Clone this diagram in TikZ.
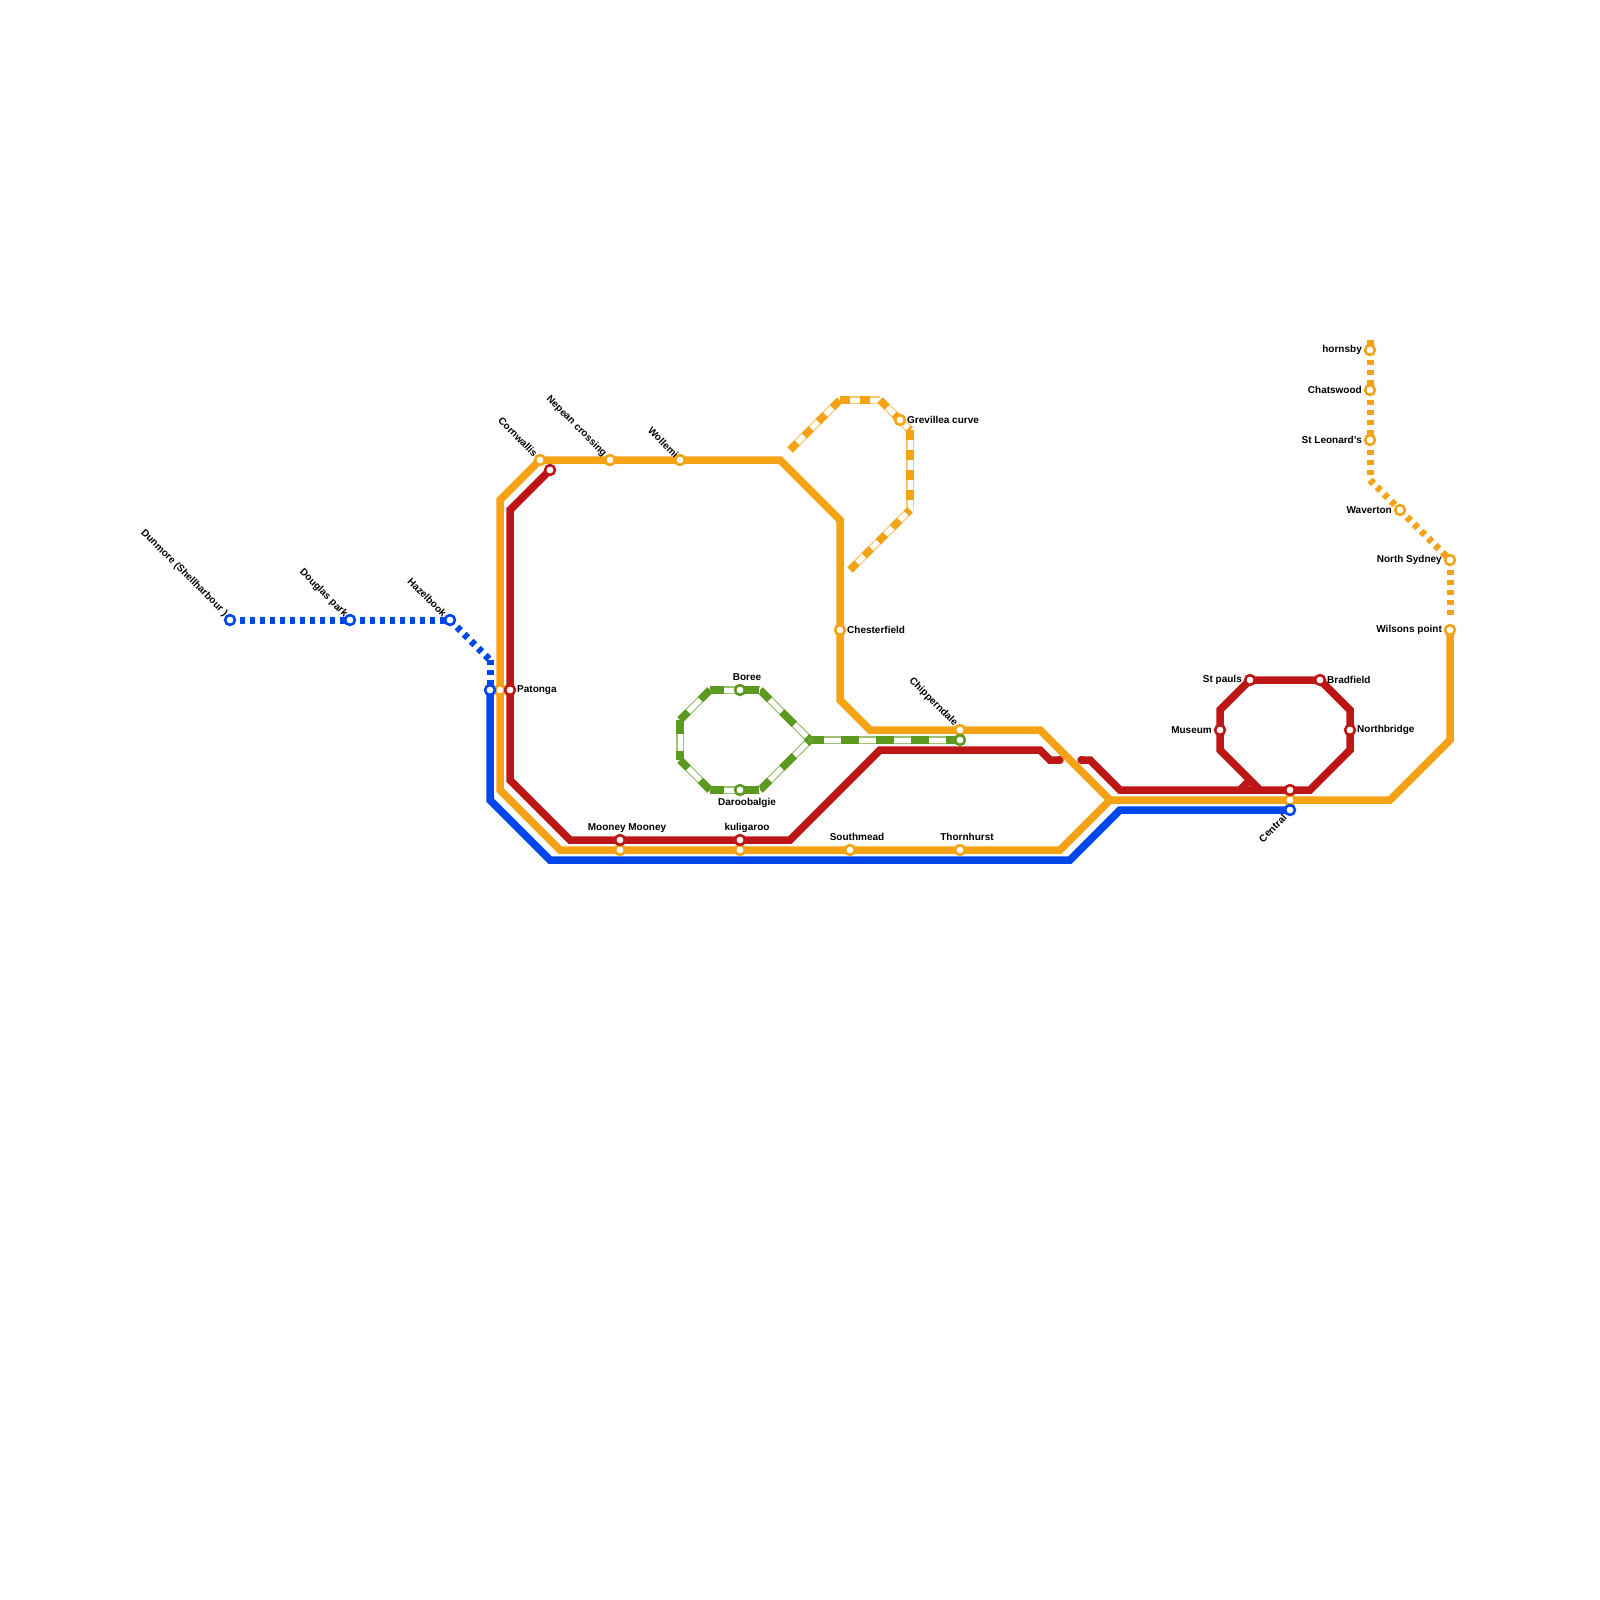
\documentclass[tikz,border=0pt]{standalone}
\usepackage{fontspec}
\setmainfont{Liberation Sans}
\usetikzlibrary{backgrounds}
\definecolor{lnblue}{HTML}{0047EB}
\definecolor{lnorange}{HTML}{F5A315}
\definecolor{lnred}{HTML}{BD1616}
\definecolor{lngreen}{HTML}{5B9A1E}
\tikzset{
  solidline/.style={draw=#1,line width=7.5pt,line join=miter,miter limit=10},
  dotline/.style={draw=#1,line width=7pt,dash pattern=on 5pt off 5pt},
  stub/.style={draw=#1,line width=7pt},
  tramorange/.style={draw=lnorange,line width=7.5pt,dash pattern=on 10pt off 10pt,
    preaction={draw=lnorange!60!white,line width=7.5pt,solid},
    preaction={draw=white,line width=5pt,solid}},
  tramgreen/.style={draw=lngreen,line width=7.5pt,dash pattern=on 17.5pt off 17.5pt,dash phase=4pt,
    preaction={draw=lngreen!60!white,line width=7.5pt,solid},
    preaction={draw=white,line width=5pt,solid}},
  stn/.style={circle,draw=#1,fill=white,line width=2.6pt,minimum size=9.8pt,inner sep=0pt},
  lab/.style={font=\fontsize{10}{12}\selectfont\bfseries,text=black,inner sep=0pt},
  labr/.style={lab,anchor=east},
  labl/.style={lab,anchor=west},
  labd/.style={lab,anchor=east,rotate=-45},
  labu/.style={lab,anchor=east,rotate=45},
}
\begin{document}
\begin{tikzpicture}[x=1pt,y=-1pt]
\useasboundingbox (0,0) rectangle (1600,1600);
% stations
\node[stn=lnorange] (opatonga) at (500,690) {};
\node[stn=lnorange] (cornwallis) at (540,460) {};
\node[stn=lnorange] (nepean) at (610,460) {};
\node[stn=lnorange] (wollemi) at (680,460) {};
\node[stn=lnorange] (chesterfield) at (840,630) {};
\node[stn=lnorange] (chipp) at (960,730) {};
\node[stn=lnorange] (omooney) at (620,850) {};
\node[stn=lnorange] (okuli) at (740,850) {};
\node[stn=lnorange] (southmead) at (850,850) {};
\node[stn=lnorange] (thornhurst) at (960,850) {};
\node[stn=lnorange] (ocentral) at (1290,800) {};
\node[stn=lnorange] (grevillea) at (900,420) {};
\node[stn=lnorange] (hornsby) at (1370,350) {};
\node[stn=lnorange] (chatswood) at (1370,390) {};
\node[stn=lnorange] (leonard) at (1370,440) {};
\node[stn=lnorange] (waverton) at (1400,510) {};
\node[stn=lnorange] (nsydney) at (1450,560) {};
\node[stn=lnorange] (wilsons) at (1450,630) {};
\node[stn=lnblue] (dunmore) at (230,620) {};
\node[stn=lnblue] (douglas) at (350,620) {};
\node[stn=lnblue] (hazel) at (450,620) {};
\node[stn=lnblue] (bpatonga) at (490,690) {};
\node[stn=lnblue] (central) at (1290,810) {};
\node[stn=lnred] (rtop) at (550,470) {};
\node[stn=lnred] (patonga) at (510,690) {};
\node[stn=lnred] (rmooney) at (620,840) {};
\node[stn=lnred] (rkuli) at (740,840) {};
\node[stn=lnred] (rcentral) at (1290,790) {};
\node[stn=lnred] (stpauls) at (1250,680) {};
\node[stn=lnred] (bradfield) at (1320,680) {};
\node[stn=lnred] (museum) at (1220,730) {};
\node[stn=lnred] (northbridge) at (1350,730) {};
\node[stn=lngreen] (boree) at (740,690) {};
\node[stn=lngreen] (daroo) at (740,790) {};
\node[stn=lngreen] (gchipp) at (960,740) {};
% free ends and corners
\coordinate (bc1) at (490,660);
\coordinate (oc1) at (1370,340);
\coordinate (oc2) at (1370,480);
\coordinate (gj) at (810,740);
\coordinate (redsplit) at (1240,790);
\begin{scope}[on background layer]
\fill[white] (0,0) rectangle (1600,1600);
% blue
\draw[solidline=lnblue] (bpatonga.center) -- (490,800) -- (550,860) -- (1070,860) -- (1120,810) -- (central.center);
\draw[dotline=lnblue] (dunmore.center) -- (douglas.center);
\draw[stub=lnblue] (340,620) -- (douglas.center);
\draw[dotline=lnblue] (douglas.center) -- (hazel.center);
\draw[stub=lnblue] (440,620) -- (hazel.center);
\draw[dotline=lnblue] (hazel.center) -- (bc1);
\draw[dotline=lnblue] (bc1) -- (bpatonga.center);
% red
\draw[solidline=lnred] (rtop.center) -- (510,510) -- (510,780) -- (570,840) -- (790,840) -- (880,750) -- (1040,750) -- (1050,760) -- (1060,760);
\draw[solidline=lnred,line cap=round] (1060,760) -- (1059,760);
\draw[solidline=lnred,line cap=round] (1081,760) -- (1082,760);
\draw[solidline=lnred] (1081,760) -- (1090,760) -- (1120,790) -- (1310,790) -- (1350,750) -- (1350,710) -- (1320,680) -- (1250,680) -- (1220,710) -- (1220,750) -- (1260,790);
\draw[solidline=lnred] (redsplit) -- (1250,780);
% orange
\draw[solidline=lnorange] (1110,800) -- (1040,730) -- (870,730) -- (840,700) -- (840,520) -- (780,460) -- (540,460) -- (500,500) -- (500,790) -- (560,850) -- (1060,850) -- (1110,800) -- (1390,800) -- (1450,740) -- (wilsons.center);
\draw[tramorange] (790,450) -- (840,400);
\draw[tramorange] (840,400) -- (880,400);
\draw[tramorange] (880,400) -- (910,430);
\draw[tramorange] (910,430) -- (910,510);
\draw[tramorange] (850,570) -- (910,510);
\draw[stub=lnorange] (oc1) -- (hornsby.center);
\draw[dotline=lnorange] (hornsby.center) -- (chatswood.center);
\draw[stub=lnorange] (1370,380) -- (chatswood.center);
\draw[dotline=lnorange] (chatswood.center) -- (leonard.center);
\draw[stub=lnorange] (1370,430) -- (leonard.center);
\draw[dotline=lnorange] (leonard.center) -- (oc2);
\draw[dotline=lnorange] (oc2) -- (waverton.center);
\draw[dotline=lnorange] (waverton.center) -- (nsydney.center);
\draw[dotline=lnorange] (nsydney.center) -- (1450,620);
% green
\draw[tramgreen] (gj) -- (gchipp.center);
\draw[tramgreen] (760,690) -- (gj);
\draw[tramgreen] (760,790) -- (gj);
\draw[tramgreen] (710,690) -- (760,690);
\draw[tramgreen] (710,790) -- (760,790);
\draw[tramgreen] (710,690) -- (680,720);
\draw[tramgreen] (710,790) -- (680,760);
\draw[tramgreen] (680,720) -- (680,760);
\end{scope}
% labels
\node[labd] (l1) at (226,615) {Dunmore (Shellharbour )};
\node[labd] (l2) at (346,616) {Douglas park};
\node[labd] (l3) at (445,615) {Hazelbook};
\node[labd] (l4) at (536,455) {Cornwallis};
\node[labd] (l5) at (605,455) {Nepean crossing};
\node[labd] (l6) at (677,456) {Wollemi};
\node[labd] (l7) at (956,725) {Chipperndale};
\node[labu] (l8) at (1285,816) {Central};
\node[labl] (l9) at (517,690) {Patonga};
\node[labl] (l10) at (847,630) {Chesterfield};
\node[labl] (l11) at (907,420) {Grevillea curve};
\node[labl] (l12) at (1327,680) {Bradfield};
\node[labl] (l13) at (1357,730) {Northbridge};
\node[labr] (l14) at (1242,680) {St pauls};
\node[labr] (l15) at (1212,730) {Museum};
\node[labr] (l16) at (1362,350) {hornsby};
\node[labr] (l17) at (1362,390) {Chatswood};
\node[labr] (l18) at (1362,440) {St Leonard's};
\node[labr] (l19) at (1392,510) {Waverton};
\node[labr] (l20) at (1442,560) {North Sydney};
\node[labr] (l21) at (1442,630) {Wilsons point};
\node[lab] (l22) at (747,677) {Boree};
\node[lab] (l23) at (747,803) {Daroobalgie};
\node[lab] (l24) at (747,828) {kuligaroo};
\node[lab] (l25) at (627,828) {Mooney Mooney};
\node[lab] (l26) at (857,837) {Southmead};
\node[lab] (l27) at (967,837) {Thornhurst};
\end{tikzpicture}
\end{document}
